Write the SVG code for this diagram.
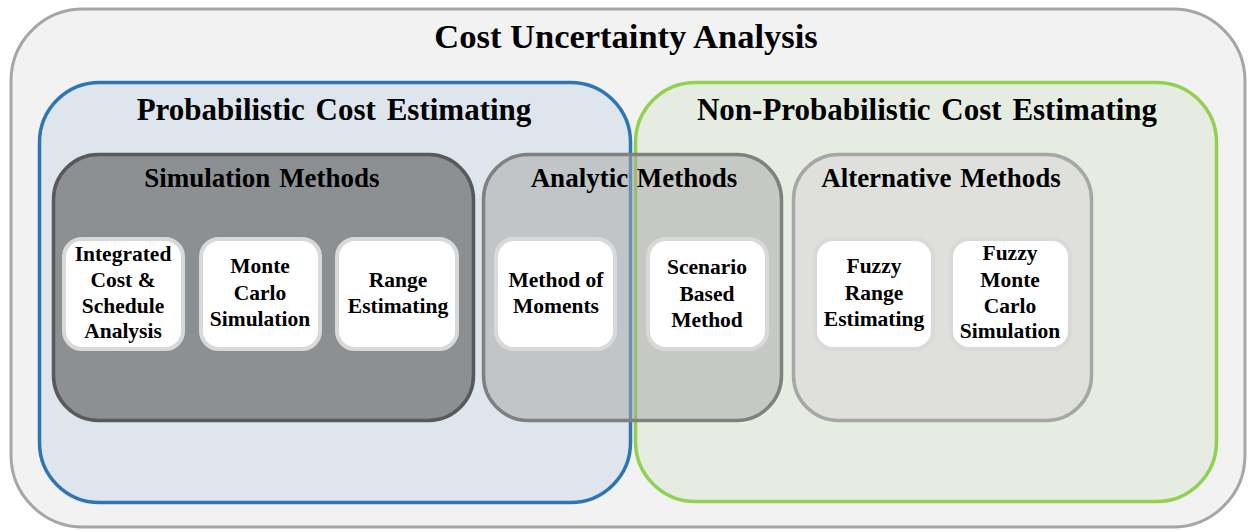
<svg xmlns="http://www.w3.org/2000/svg" width="1248" height="531" viewBox="0 0 1248 531">
  <style>
    text { font-family: "Liberation Serif", "Times New Roman", serif; font-weight: bold; fill: #000; text-anchor: middle; }
    .title { font-size: 34.5px; }
    .domain { font-size: 31px; word-spacing: 3px; }
    .group { font-size: 27px; word-spacing: 2px; }
    .item { font-size: 21.5px; }
    .leaf { fill: #ffffff; stroke: #d9d9d9; stroke-width: 4; }
  </style>

  <!-- outer frame -->
  <g id="cost-uncertainty">
    <rect x="11" y="9" width="1234" height="518" rx="72" fill="#f2f2f2" stroke="#a6a6a6" stroke-width="3"/>
    <text class="title" x="626" y="48">Cost Uncertainty Analysis</text>
  </g>

  <!-- two estimating domains -->
  <g id="probabilistic">
    <rect x="39.5" y="82.5" width="591" height="420" rx="60" fill="#dee5ec" stroke="#2e75b6" stroke-width="3.5"/>
    <text class="domain" x="334" y="120">Probabilistic Cost Estimating</text>
  </g>
  <g id="non-probabilistic">
    <rect x="635.5" y="82.5" width="581" height="419" rx="60" fill="#e6ece2" stroke="#92d050" stroke-width="3.5"/>
    <text class="domain" x="927" y="120">Non-Probabilistic Cost Estimating</text>
  </g>

  <!-- method groups -->
  <g id="simulation-methods">
    <rect x="53.5" y="154.5" width="420" height="266" rx="45" fill="#8d9093" stroke="#595959" stroke-width="3.5"/>
    <text class="group" x="262" y="187">Simulation Methods</text>
  </g>
  <g id="analytic-methods">
    <rect x="483.5" y="154.5" width="298" height="266" rx="45" fill="#a6a6a6" fill-opacity="0.52" stroke="#808080" stroke-width="3.5"/>
    <text class="group" x="634" y="187">Analytic Methods</text>
  </g>
  <g id="alternative-methods">
    <rect x="793.5" y="154.5" width="298" height="266" rx="45" fill="#dfe0dc" stroke="#a6a6a6" stroke-width="3.5"/>
    <text class="group" x="941" y="187">Alternative Methods</text>
  </g>

  <!-- individual techniques -->
  <g id="integrated-cost-schedule">
    <rect class="leaf" x="64" y="239" width="119" height="110" rx="18"/>
    <text class="item" x="123" y="261">Integrated</text>
    <text class="item" x="123" y="287">Cost &amp;</text>
    <text class="item" x="123" y="313">Schedule</text>
    <text class="item" x="123" y="338">Analysis</text>
  </g>
  <g id="monte-carlo">
    <rect class="leaf" x="201" y="239" width="119" height="110" rx="18"/>
    <text class="item" x="260" y="273">Monte</text>
    <text class="item" x="260" y="300">Carlo</text>
    <text class="item" x="260" y="326">Simulation</text>
  </g>
  <g id="range-estimating">
    <rect class="leaf" x="337" y="239" width="120" height="110" rx="18"/>
    <text class="item" x="398" y="287">Range</text>
    <text class="item" x="398" y="313">Estimating</text>
  </g>
  <g id="method-of-moments">
    <rect class="leaf" x="496" y="239" width="119" height="110" rx="18"/>
    <text class="item" x="556" y="287">Method of</text>
    <text class="item" x="556" y="313">Moments</text>
  </g>
  <g id="scenario-based">
    <rect class="leaf" x="648" y="239" width="119" height="110" rx="18"/>
    <text class="item" x="707" y="274">Scenario</text>
    <text class="item" x="707" y="301">Based</text>
    <text class="item" x="707" y="327">Method</text>
  </g>
  <g id="fuzzy-range">
    <rect class="leaf" x="815" y="239" width="118" height="110" rx="18"/>
    <text class="item" x="874" y="273">Fuzzy</text>
    <text class="item" x="874" y="300">Range</text>
    <text class="item" x="874" y="326">Estimating</text>
  </g>
  <g id="fuzzy-monte-carlo">
    <rect class="leaf" x="951" y="239" width="119" height="110" rx="18"/>
    <text class="item" x="1010" y="260">Fuzzy</text>
    <text class="item" x="1010" y="287">Monte</text>
    <text class="item" x="1010" y="313">Carlo</text>
    <text class="item" x="1010" y="338">Simulation</text>
  </g>

  <!-- no connectors: the grouping is shown by nesting -->
  <g id="connectors"/>
</svg>
